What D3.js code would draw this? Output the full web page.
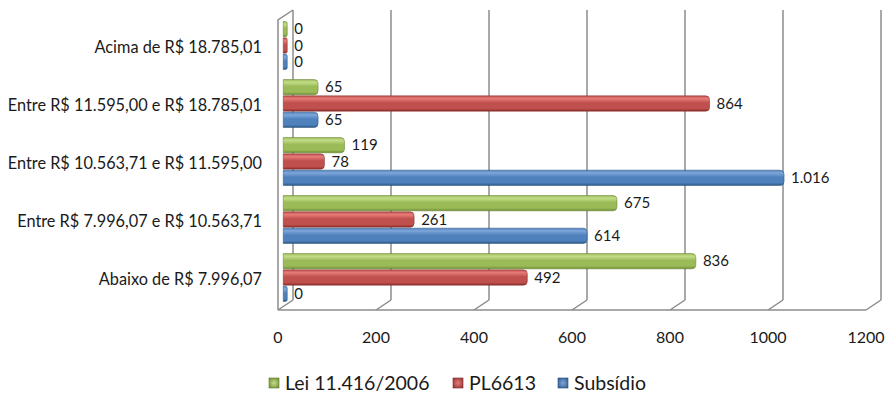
<!DOCTYPE html>
<html>
<head>
<meta charset="utf-8">
<script src="https://cdn.jsdelivr.net/npm/d3@7/dist/d3.min.js"></script>
<style>
  html, body { margin: 0; padding: 0; background: #fff; }
  svg { display: block; font-family: Lato, "Open Sans", sans-serif; }
</style>
</head>
<body>
<svg id="chart" width="885" height="397"></svg>
<script>
// Faixas salariais (de cima para baixo no gráfico)
const categories = [
  "Acima de R$ 18.785,01",
  "Entre R$ 11.595,00 e R$ 18.785,01",
  "Entre R$ 10.563,71 e R$ 11.595,00",
  "Entre R$ 7.996,07 e R$ 10.563,71",
  "Abaixo de R$ 7.996,07"
];
const series = ["Lei 11.416/2006", "PL6613", "Subsídio"];
const leiValues      = [0, 65, 119, 675, 836];
const plValues       = [0, 864, 78, 261, 492];
const subsidioValues = [0, 65, 1016, 614, 0];
const xTicks = [0, 200, 400, 600, 800, 1000, 1200];

const seriesValues = [leiValues, plValues, subsidioValues];
const colors = {
  "Lei 11.416/2006": { light: "#c3dd86", base: "#9bbb59", dark: "#6b8a2e", edge: "#5f7a2a" },
  "PL6613":          { light: "#e57c79", base: "#c0504d", dark: "#8f2f2d", edge: "#7d2826" },
  "Subsídio":        { light: "#7fa6da", base: "#4f81bd", dark: "#2b5888", edge: "#254b75" }
};

const svg = d3.select("#chart");
const fmt = d3.formatLocale({ decimal: ",", thousands: ".", grouping: [3], currency: ["R$ ", ""] }).format(",d");

// Front plane of the 3D box and its depth offset
const x = d3.scaleLinear().domain([0, 1200]).range([278, 866]);
const y = d3.scaleBand().domain(categories).range([20, 310]);
const inner = d3.scaleBand().domain(series).range([5, 53]).paddingInner(0.06);
const depth = { dx: 15, dy: -10 };
const barDepth = 0.35; // bars sit between the front and the back wall
const cap = 3;         // rounded end of each bar

// Gradients for the cylinder-like bars
const defs = svg.append("defs");
series.forEach((s, i) => {
  const c = colors[s];
  const g = defs.append("linearGradient").attr("id", "grad" + i)
    .attr("x1", 0).attr("y1", 0).attr("x2", 0).attr("y2", 1);
  g.append("stop").attr("offset", "0%").attr("stop-color", c.base);
  g.append("stop").attr("offset", "18%").attr("stop-color", c.light);
  g.append("stop").attr("offset", "45%").attr("stop-color", c.base);
  g.append("stop").attr("offset", "82%").attr("stop-color", c.base);
  g.append("stop").attr("offset", "100%").attr("stop-color", c.dark);
  const m = defs.append("radialGradient").attr("id", "mark" + i)
    .attr("cx", "50%").attr("cy", "50%").attr("r", "70%");
  m.append("stop").attr("offset", "0%").attr("stop-color", c.light);
  m.append("stop").attr("offset", "100%").attr("stop-color", c.dark);
});

const grid = "#8c8c8c";
const wall = svg.append("g").attr("fill", "none").attr("stroke", grid).attr("stroke-width", 1.5);
const [x0, x1] = x.range();
const [yTop, yBot] = y.range();

// Back wall gridlines
wall.selectAll("line.grid").data(xTicks).join("line").attr("class", "grid")
  .attr("x1", d => x(d) + depth.dx).attr("x2", d => x(d) + depth.dx)
  .attr("y1", yTop + depth.dy).attr("y2", yBot + depth.dy);

// Left side wall
wall.append("path")
  .attr("d", `M${x0},${yBot} L${x0},${yTop} L${x0 + depth.dx},${yTop + depth.dy}`);

// Floor: front edge and receding tick lines
wall.append("line").attr("x1", x0).attr("x2", x1).attr("y1", yBot).attr("y2", yBot);
wall.selectAll("line.floor").data(xTicks).join("line").attr("class", "floor")
  .attr("x1", d => x(d)).attr("x2", d => x(d) + depth.dx)
  .attr("y1", yBot).attr("y2", yBot + depth.dy);

// Bars
const bx = depth.dx * barDepth, by = depth.dy * barDepth;
const rows = [];
categories.forEach((cat, ci) => {
  series.forEach((s, si) => rows.push({ cat, s, si, v: seriesValues[si][ci] }));
});
const barW = d => Math.max(x(d.v) - x(0) + cap, 4);

function barPath(d) {
  const left = x(0) + bx;
  const w = barW(d);
  const top = y(d.cat) + inner(d.s) + by;
  const h = inner.bandwidth();
  const r = Math.min(4, w / 2);
  const right = left + w;
  return `M${left},${top} H${right - r} Q${right},${top} ${right},${top + r} V${top + h - r} Q${right},${top + h} ${right - r},${top + h} H${left} Z`;
}

svg.append("g").selectAll("path").data(rows).join("path")
  .attr("d", barPath)
  .attr("fill", d => `url(#grad${d.si})`)
  .attr("stroke", d => colors[d.s].edge)
  .attr("stroke-opacity", 0.6)
  .attr("stroke-width", 0.8);

// Value labels
svg.append("g").selectAll("text").data(rows).join("text")
  .attr("x", d => x(0) + bx + barW(d) + 7)
  .attr("y", d => y(d.cat) + inner(d.s) + by + inner.bandwidth() / 2)
  .attr("dy", "0.35em")
  .attr("font-size", 15)
  .attr("fill", "#1a1a1a")
  .text(d => fmt(d.v));

// Category labels
svg.append("g").selectAll("text").data(categories).join("text")
  .attr("x", 262)
  .attr("y", d => y(d) + y.bandwidth() / 2 - 2)
  .attr("dy", "0.35em")
  .attr("text-anchor", "end")
  .attr("font-size", 16.3)
  .attr("fill", "#1a1a1a")
  .text(d => d);

// X axis tick labels
svg.append("g").selectAll("text").data(xTicks).join("text")
  .attr("x", d => x(d))
  .attr("y", 337)
  .attr("dy", "0.35em")
  .attr("text-anchor", "middle")
  .attr("font-size", 16)
  .attr("fill", "#1a1a1a")
  .text(d => d);

// Legend
const legendX = [269, 453, 558];
const lg = svg.append("g").selectAll("g").data(series).join("g")
  .attr("transform", (d, i) => `translate(${legendX[i]},383)`);
lg.append("rect").attr("x", 0).attr("y", -5).attr("width", 10).attr("height", 10)
  .attr("fill", (d, i) => `url(#mark${i})`)
  .attr("stroke", d => colors[d].edge).attr("stroke-width", 0.6);
lg.append("text").attr("x", 16).attr("dy", "0.35em")
  .attr("font-size", 19.5).attr("fill", "#1a1a1a").text(d => d);
</script>
</body>
</html>
